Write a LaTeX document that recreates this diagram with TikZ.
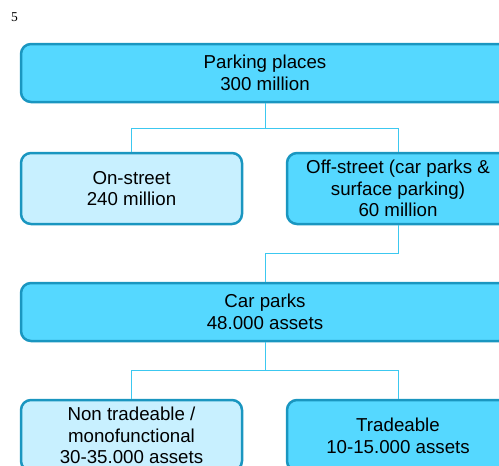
\documentclass[tikz,border=0pt]{standalone}
\usepackage{fontspec}
\setmainfont{Liberation Sans}
\newfontfamily\numfont{Liberation Serif}

\definecolor{boxdark}{RGB}{85,216,255}
\definecolor{boxlight}{RGB}{200,240,255}
\definecolor{boxline}{RGB}{26,150,192}
\definecolor{linkline}{RGB}{60,200,240}

\begin{document}
\begin{tikzpicture}[x=1pt, y=-1pt,
  box/.style={draw=boxline, line width=2.5pt, rounded corners=10pt, fill=boxdark, align=center, inner sep=0pt, font=\fontsize{18.7}{21.7}\selectfont},
  sub/.style={box, fill=boxlight},
  link/.style={draw=linkline, line width=1pt}
]
  \useasboundingbox (0,0) rectangle (499,466);
  \clip (0,0) rectangle (499,466);

  \node[font=\numfont\fontsize{13.5}{15}\selectfont] (pagenum) at (14.5,17.5) {5};

  \node[box, minimum width=488, minimum height=58] (places) at (265,73) {Parking places\\300 million};
  \node[sub, minimum width=221, minimum height=71] (onstreet) at (131.5,188.5) {On-street\\240 million};
  \node[box, minimum width=222, minimum height=71] (offstreet) at (398,188.5) {Off-street (car parks \&\\surface parking)\\60 million};
  \node[box, minimum width=488, minimum height=58] (carparks) at (265,312) {Car parks\\48.000 assets};
  \node[sub, minimum width=221, minimum height=71] (nontrade) at (131.5,435.5) {Non tradeable /\\monofunctional\\30-35.000 assets};
  \node[box, minimum width=222, minimum height=71] (tradeable) at (398,435.5) {Tradeable\\10-15.000 assets};

  \draw[link] (places.south) -- ++(0,25) -| (onstreet.north);
  \draw[link] (places.south) -- ++(0,25) -| (offstreet.north);
  \draw[link] (offstreet.south) -- ++(0,28) -| (carparks.north);
  \draw[link] (carparks.south) -- ++(0,28) -| (nontrade.north);
  \draw[link] (carparks.south) -- ++(0,28) -| (tradeable.north);
\end{tikzpicture}
\end{document}
